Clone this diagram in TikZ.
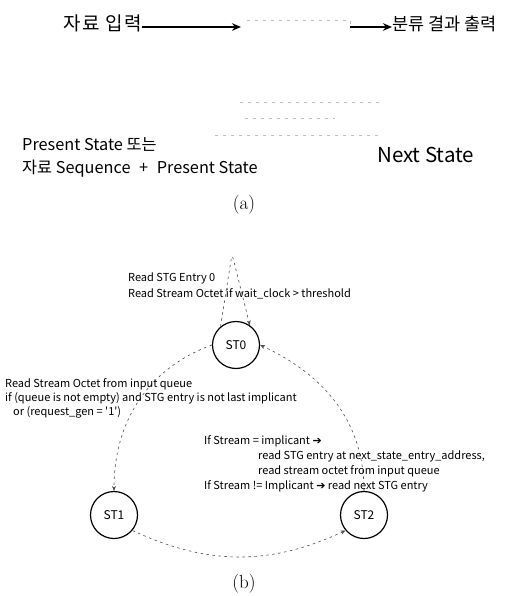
\documentclass[tikz,border=0pt]{standalone}
\usepackage{fontspec}
\newfontfamily\kr{Noto Sans CJK KR}
\newfontfamily\krwide{Noto Sans CJK KR}[LetterSpace=8]
\newfontfamily\arr{DejaVu Sans}
\usetikzlibrary{arrows.meta}
\begin{document}
\begin{tikzpicture}[x=1pt,y=-1pt,
  big/.style={anchor=base west, inner sep=0pt, font=\krwide\fontsize{19}{22}\selectfont},
  bigr/.style={anchor=base west, inner sep=0pt, font=\kr\fontsize{17.5}{22}\selectfont},
  lbl/.style={anchor=base west, inner sep=0pt, font=\kr\fontsize{16.3}{19}\selectfont},
  lblbig/.style={anchor=base west, inner sep=0pt, font=\kr\fontsize{20.5}{24}\selectfont},
  small/.style={anchor=base west, inner sep=0pt, font=\kr\fontsize{11}{13}\selectfont},
  captext/.style={inner sep=0pt, font=\fontsize{19}{22}\selectfont},
  state/.style={circle, draw, line width=1.2pt, minimum size=47pt, inner sep=0pt, font=\kr\fontsize{12}{14}\selectfont},
  edge/.style={dash pattern=on 2.5pt off 3.5pt, line width=0.6pt, black!70, -{Stealth[length=5pt,width=4pt]}},
  faint/.style={gray!50, dash pattern=on 3pt off 5pt, line width=0.7pt},
  flow/.style={line width=1.4pt, -{Stealth[length=9pt,width=7.5pt]}}
]
\useasboundingbox (0,0) rectangle (505,596);
% ---------- (a)
\node[big] (inp) at (63,31) {자료 입력};
\node[bigr] (outp) at (392,31) {분류 결과 출력};
\coordinate (boxin) at (241,27);
\coordinate (boxout) at (350,27);
\draw[flow] (inp.east |- boxin) -- (boxin);
\draw[flow] (boxout) -- (outp.west |- boxout);
\draw[faint] (247,20) -- (350,20) -- (boxout);
\draw[faint] (240,102) -- (380,102);
\draw[faint] (245,118) -- (335,118);
\draw[faint] (215,135) -- (378,135);
\node[lbl] (ps1) at (22,151) {Present State 또는};
\node[lbl] (ps2) at (22,173) {자료 Sequence\hspace{5pt} + \hspace{5pt}Present State};
\node[lblbig] (ns) at (377,162) {Next State};
\node[captext] (capa) at (244,205) {(a)};
% ---------- (b)
\node[state] (st0) at (236,345) {ST0};
\node[state] (st1) at (114,515) {ST1};
\node[state] (st2) at (364,515) {ST2};
\coordinate (apex) at (232,254);
\draw[edge, rounded corners=4pt] (st0.130) -- (apex) -- (st0.55);
\draw[edge] (st0.west) to[out=200,in=90] (st1.north);
\draw[edge] (st1.-40) to[out=-25,in=205] (st2.-140);
\draw[edge] (st2.north) to[out=90,in=-25] (st0.east);
\node[small] (l0a) at (128,281) {Read STG Entry 0};
\node[small] (l0b) at (128,297) {Read Stream Octet if wait\_clock > threshold};
\node[small] (l1a) at (5,387) {Read Stream Octet from input queue};
\node[small] (l1b) at (5,401) {if (queue is not empty) and STG entry is not last implicant};
\node[small] (l1c) at (13,415) {or (request\_gen = '1')};
\node[small] (l2a) at (204,444) {If Stream = implicant {\arr ➔}};
\node[small] (l2b) at (258,459) {read STG entry at next\_state\_entry\_address,};
\node[small] (l2c) at (258,474) {read stream octet from input queue};
\node[small] (l2d) at (204,489) {If Stream != Implicant {\arr ➔} read next STG entry};
\node[captext] (capb) at (244,584) {(b)};
\end{tikzpicture}
\end{document}
